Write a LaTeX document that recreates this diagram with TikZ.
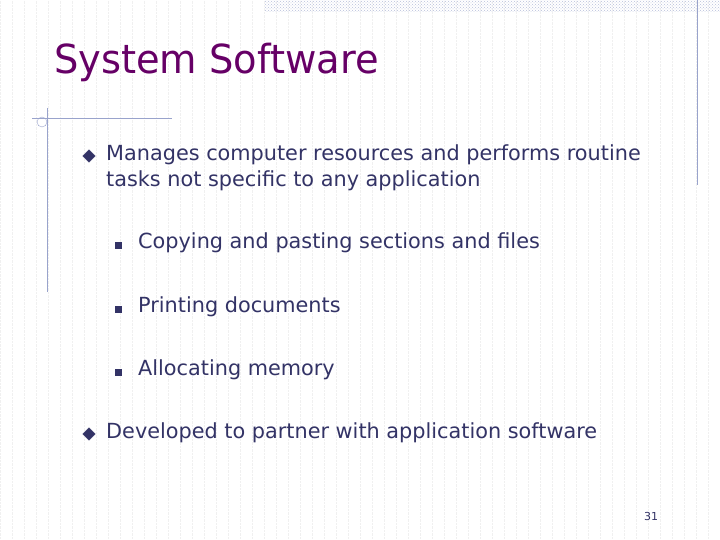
\documentclass[tikz,border=0pt]{standalone}
\usepackage{fontspec}
\setmainfont{DejaVu Sans}
\usetikzlibrary{patterns,shapes.geometric}
\definecolor{titlecol}{HTML}{660066}
\definecolor{bodycol}{HTML}{333366}
\definecolor{linecol}{HTML}{99A3CC}
\begin{document}
\begin{tikzpicture}[x=1pt,y=-1pt,
    body/.style={anchor=west, text=bodycol, font=\fontsize{20.8}{26}\selectfont, inner sep=0pt, align=left},
    bullet/.style={fill=bodycol, minimum size=7pt, inner sep=0pt},
    diam/.style={diamond, draw=white, fill=bodycol, minimum size=14pt, inner sep=0pt}]
        % background
        \useasboundingbox (0,0) rectangle (720,540);
        \fill[white] (0,0) rectangle (720,540);
        \draw[gray!12, densely dotted, step=12] (0,0) grid (720,540);
        \fill[pattern=crosshatch dots, pattern color=linecol!70] (265,0) rectangle (720,12);
        \draw[linecol] (697,0) -- (697,185);
        \draw[linecol] (32,118) -- (172,118);
        \draw[linecol] (47,108) -- (47,292);
        \draw[linecol] (42,122) circle (5);

        % title
        \node[anchor=west, text=titlecol, font=\fontsize{40}{44}\selectfont, inner sep=0pt, xscale=0.96] (title) at (54,62) {System Software};

        % first level
        \node[diam] (d1) at (89,156) {};
        \node[body] (t1) at (106,168) {Manages computer resources and performs routine\\tasks not specific to any application};
        \node[bullet] (b1) at (118,245) {};
        \node[body] (t2) at (138,243) {Copying and pasting sections and files};
        \node[bullet] (b2) at (118,309) {};
        \node[body] (t3) at (138,307) {Printing documents};
        \node[bullet] (b3) at (118,372) {};
        \node[body] (t4) at (138,370) {Allocating memory};
        \node[diam] (d2) at (89,434) {};
        \node[body] (t5) at (106,433) {Developed to partner with application software};

        % page number
        \node[text=bodycol, font=\fontsize{11}{13}\selectfont] (page) at (651,516) {31};
    \end{tikzpicture}
\end{document}
